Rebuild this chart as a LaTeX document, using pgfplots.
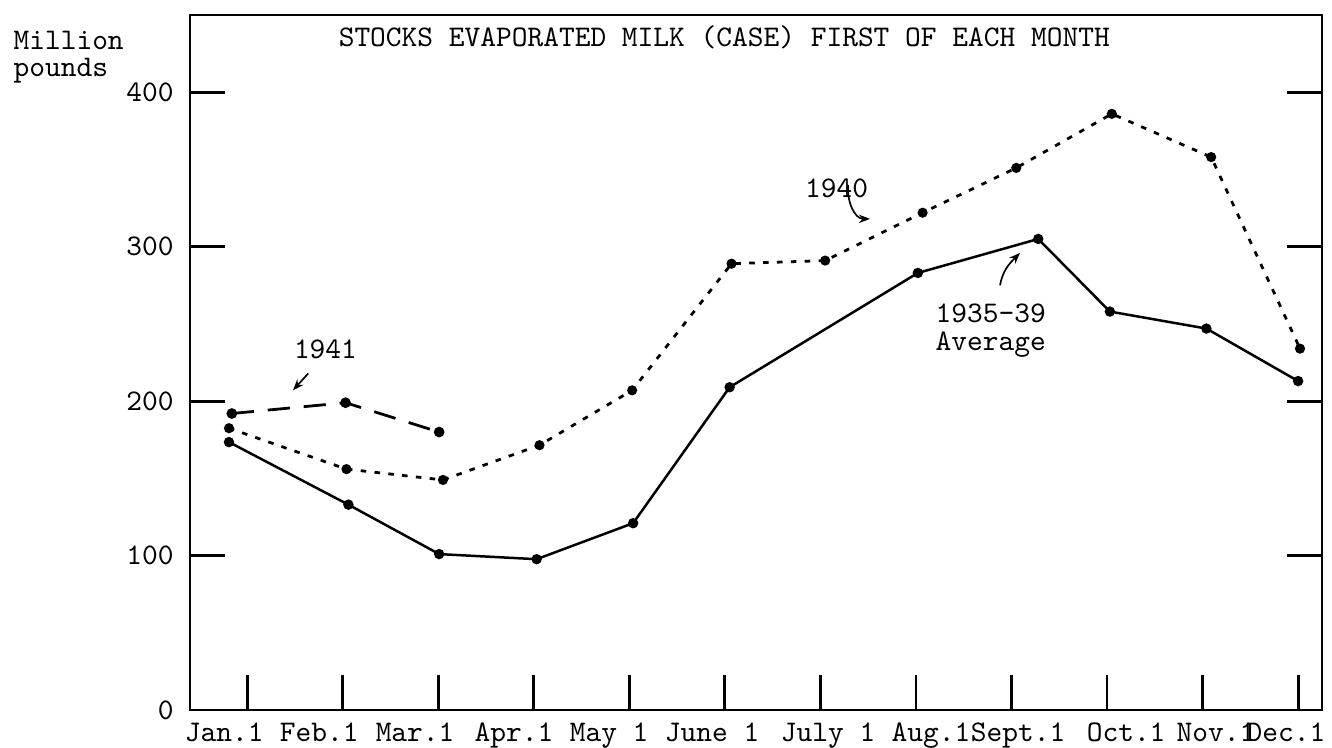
\documentclass[border=0pt]{standalone}
\usepackage{pgfplots}
\pgfplotsset{compat=1.18}
\usetikzlibrary{arrows.meta}
\begin{document}
\begin{tikzpicture}[font=\ttfamily\fontsize{10.8}{11.5}\selectfont]
\begin{axis}[
  scale only axis, width=407.9pt, height=250.5pt,
  xmin=-0.597, xmax=11.25, ymin=0, ymax=450,
  axis line style={line width=1pt, black},
  tick align=inside,
  major tick length=12.5pt,
  tick style={line width=1pt, black},
  xtick={0,1,2,3,4,5,6,7,8,9,10,11},
  xticklabels={},
  xtick pos=left,
  extra x ticks={-0.24,0.754,1.758,2.794,3.789,4.867,6.080,7.158,8.069,9.200,10.141,10.874},
  extra x tick labels={Jan.1,Feb.1,Mar.1,Apr.1,May 1,June 1,July 1,Aug.1,Sept.1,Oct.1,Nov.1,Dec.1},
  extra x tick style={major tick length=0pt, tick style={draw=none}},
  xticklabel style={font=\ttfamily\fontsize{10.8}{11.5}\selectfont, anchor=base, yshift=-11.4pt},
  ytick={0,100,200,300,400},
  yticklabel style={font=\ttfamily\fontsize{10.8}{11.5}\selectfont, xshift=-2.4pt},
  /pgf/number format/assume math mode=true,
  clip=false,
]
\coordinate (SW) at (rel axis cs:0,0);
\coordinate (NE) at (rel axis cs:1,1);

% 1935-39 Average
\addplot[black, line width=0.9pt, mark=*, mark size=1.4pt] coordinates {
(-0.19,173.5) (1.06,133) (2.01,101) (3.03,97.7) (4.04,121) (5.05,209)
(7.02,283) (8.28,305) (9.03,258) (10.04,247) (11.0,213)};

% 1940
\addplot[black, line width=1pt, dash pattern=on 2pt off 3pt, mark=*, mark size=1.3pt, mark options={solid}] coordinates {
(-0.19,182.5) (1.04,156) (2.05,149) (3.06,171.5) (4.03,207) (5.07,289)
(6.05,291) (7.07,322) (8.05,351) (9.05,386) (10.09,358) (11.02,234)};

% 1941
\addplot[black, line width=1pt, dash pattern=on 8pt off 5pt, mark=*, mark size=1.4pt, mark options={solid}] coordinates {
(-0.16,192) (1.03,199) (2.01,180)};

% title and labels
\node[anchor=base] at (rel axis cs:0,1) [xshift=192.5pt, yshift=-11.5pt]
  {STOCKS EVAPORATED MILK (CASE) FIRST OF EACH MONTH};
\node[anchor=base west, inner xsep=0pt] at (rel axis cs:0,1) [xshift=-63.8pt, yshift=-12.6pt] {Million};
\node[anchor=base west, inner xsep=0pt] at (rel axis cs:0,1) [xshift=-63.8pt, yshift=-22pt] {pounds};

% annotations
\node[anchor=base] at (axis cs:0.82,227.8) {1941};
\draw[line width=0.6pt, -{Stealth[length=4pt,width=3pt]}] (axis cs:0.64,218) -- (axis cs:0.48,207);

\node[anchor=base] at (axis cs:6.17,332) {1940};
\draw[line width=0.6pt, -{Stealth[length=4pt,width=3pt]}] (axis cs:6.29,340) to[out=-95,in=180] (axis cs:6.52,318);

\node[anchor=base west, inner xsep=0pt] at (axis cs:7.20,251) {1935-39};
\node[anchor=base west, inner xsep=0pt] at (axis cs:7.20,233) {Average};
\draw[line width=0.6pt, -{Stealth[length=4pt,width=3pt]}] (axis cs:7.88,275) to[out=80,in=-135] (axis cs:8.09,296);
\end{axis}
\pgfresetboundingbox
\path ([shift={(-68.5pt,-13.3pt)}]SW) rectangle ([shift={(3.6pt,5.4pt)}]NE);
\end{tikzpicture}
\end{document}
